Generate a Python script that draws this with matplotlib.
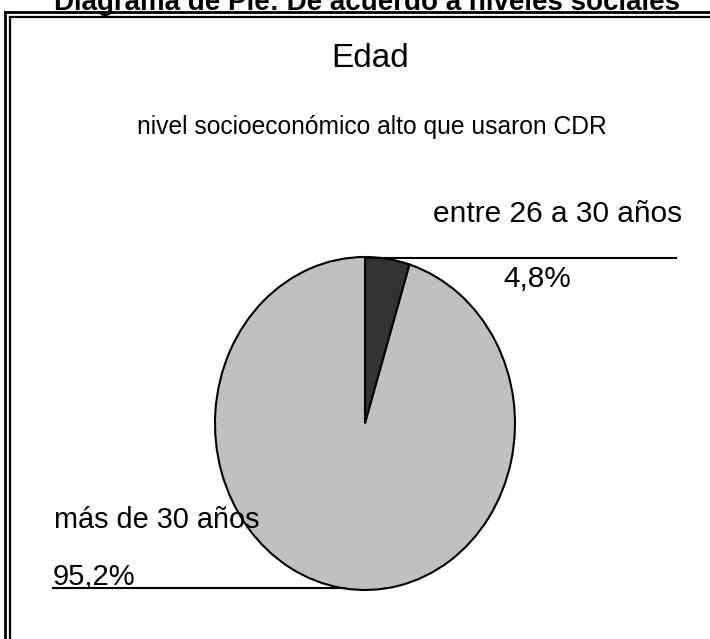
import matplotlib
matplotlib.use('Agg')
import matplotlib.pyplot as plt
from matplotlib.lines import Line2D

plt.rcParams['font.family'] = ['Liberation Sans', 'DejaVu Sans']

labels = ['entre 26 a 30 años', 'más de 30 años']
values = [4.8, 95.2]
pct_labels = ['4,8%', '95,2%']
colors = ['#333333', '#c0c0c0']

W, H = 710, 639
fig = plt.figure(figsize=(W / 100, H / 100), dpi=100)

def fx(x):
    return x / W

def fy(y):
    return 1 - y / H

# double frame (runs off the right and bottom edges)
for off, lw in [(5, 2.0), (10, 1.6)]:
    fig.add_artist(Line2D([fx(off), fx(off)], [fy(off + 7), -0.1], color='black', lw=lw))
    fig.add_artist(Line2D([fx(off), 1.1], [fy(off + 7), fy(off + 7)], color='black', lw=lw))

fig.text(fx(367), fy(10), 'Diagrama de Pie: De acuerdo a niveles sociales',
         ha='center', va='baseline', fontsize=20, fontweight='bold')
fig.text(fx(370), fy(67), 'Edad', ha='center', va='baseline', fontsize=24)
fig.text(fx(372), fy(134), 'nivel socioeconómico alto que usaron CDR',
         ha='center', va='baseline', fontsize=17.7)

ax = fig.add_axes([fx(215), 1 - 590 / H, 300 / W, 333 / H])
ax.pie(values, colors=colors, startangle=90, counterclock=False,
       wedgeprops=dict(edgecolor='black', linewidth=1.5))
ax.set_aspect('auto')
ax.set_xlim(-1, 1)
ax.set_ylim(-1, 1)
ax.axis('off')

# leader lines
fig.add_artist(Line2D([fx(367), fx(676)], [fy(258), fy(258)], color='black', lw=1.5))
fig.add_artist(Line2D([fx(53), fx(345)], [fy(588), fy(588)], color='black', lw=1.5))

fig.text(fx(433), fy(222), labels[0], ha='left', va='baseline', fontsize=21.5)
fig.text(fx(503), fy(287), pct_labels[0], ha='left', va='baseline', fontsize=21.5)
fig.text(fx(54), fy(528), labels[1], ha='left', va='baseline', fontsize=20.8)
fig.text(fx(53), fy(585), pct_labels[1], ha='left', va='baseline', fontsize=21)

fig.savefig('out.png', dpi=100)
